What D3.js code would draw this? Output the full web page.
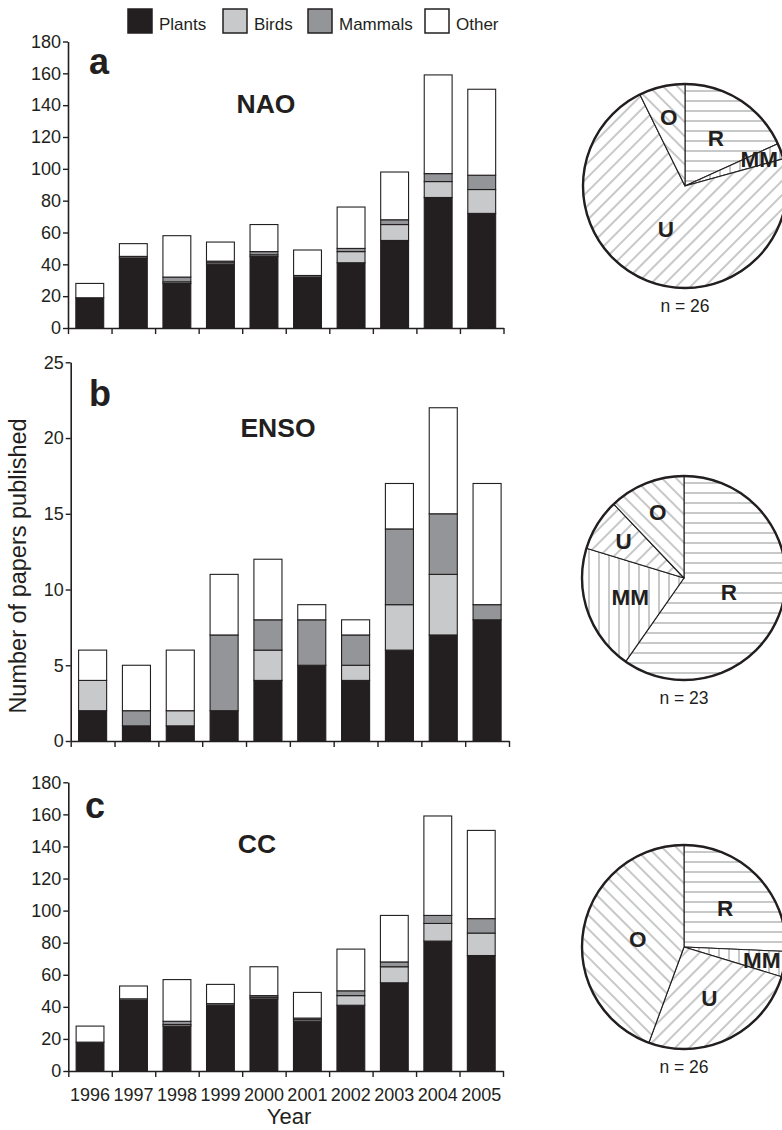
<!DOCTYPE html>
<html>
<head>
<meta charset="utf-8">
<script src="https://cdn.jsdelivr.net/npm/d3@7"></script>
<style>
  body { margin: 0; background: #fff; }
  svg { display: block; font-family: "Liberation Sans", Arial, Helvetica, sans-serif; }
</style>
</head>
<body>
<script>
// ---- data ----
const years = ['1996', '1997', '1998', '1999', '2000', '2001', '2002', '2003', '2004', '2005']
const groups = ['Plants', 'Birds', 'Mammals', 'Other']

const naoPlants = [19, 44, 28, 40, 45, 32, 41, 55, 82, 72]
const naoBirds = [0, 0, 1, 1, 1, 0, 7, 10, 10, 15]
const naoMammals = [0, 1, 3, 1, 2, 1, 2, 3, 5, 9]
const naoOther = [9, 8, 26, 12, 17, 16, 26, 30, 62, 54]

const ensoPlants = [2, 1, 1, 2, 4, 5, 4, 6, 7, 8]
const ensoBirds = [2, 0, 1, 0, 2, 0, 1, 3, 4, 0]
const ensoMammals = [0, 1, 0, 5, 2, 3, 2, 5, 4, 1]
const ensoOther = [2, 3, 4, 4, 4, 1, 1, 3, 7, 8]

const ccPlants = [18, 44, 28, 41, 45, 31, 41, 55, 81, 72]
const ccBirds = [0, 0, 1, 0, 1, 1, 6, 10, 11, 14]
const ccMammals = [0, 1, 2, 1, 1, 1, 3, 3, 5, 9]
const ccOther = [10, 8, 26, 12, 18, 16, 26, 29, 62, 55]

const naoTicks = [0, 20, 40, 60, 80, 100, 120, 140, 160, 180]
const ensoTicks = [0, 5, 10, 15, 20, 25]
const ccTicks = [0, 20, 40, 60, 80, 100, 120, 140, 160, 180]

// pie shares (percent of papers), clockwise from 12 o'clock
const pieCats = ['R', 'MM', 'U', 'O']
const naoPie = [18.2, 2.5, 72.0, 7.3]
const ensoPie = [59.7, 20.0, 8.2, 12.1]
const ccPie = [25.7, 4.0, 25.9, 44.4]
const pieN = [26, 23, 26]

// ---- styles ----
const ink = '#231f20'
const colors = { Plants: '#231f20', Birds: '#c8c9cb', Mammals: '#939598', Other: '#ffffff' }
const hatchColor = '#8f9194'

const svg = d3.select('body').append('svg')
    .attr('width', 782)
    .attr('height', 1130)

// hatch patterns for the pies
const defs = svg.append('defs')
const hatch = (id, angle) => {
    const p = defs.append('pattern')
        .attr('id', id)
        .attr('patternUnits', 'userSpaceOnUse')
        .attr('width', 10)
        .attr('height', 10)
        .attr('patternTransform', `rotate(${angle})`)
    p.append('rect').attr('width', 10).attr('height', 10).attr('fill', '#fff')
    p.append('line')
        .attr('x1', 0).attr('x2', 10).attr('y1', 5).attr('y2', 5)
        .attr('stroke', hatchColor).attr('stroke-width', 1)
}
hatch('hatch-R', 0)      // horizontal
hatch('hatch-MM', 90)    // vertical
hatch('hatch-U', -45)    // "/"
hatch('hatch-O', 45)     // "\"

// legend
const legendX = [128, 223, 308, 425]
const legend = svg.append('g').attr('class', 'legend')
groups.forEach((g, i) => {
    legend.append('rect')
        .attr('x', legendX[i]).attr('y', 9)
        .attr('width', 24).attr('height', 24)
        .attr('fill', colors[g])
        .attr('stroke', ink).attr('stroke-width', 1.5)
    legend.append('text')
        .attr('x', legendX[i] + 31).attr('y', 30)
        .attr('font-size', 17).attr('fill', ink)
        .text(g)
})

const drawBars = (cfg) => {
    const g = svg.append('g')

    const rows = years.map((year, i) => ({
        year,
        Plants: cfg.plants[i],
        Birds: cfg.birds[i],
        Mammals: cfg.mammals[i],
        Other: cfg.other[i]
    }))

    const yScale = d3.scaleLinear()
        .domain([0, d3.max(cfg.ticks)])
        .range([cfg.bottom, cfg.top])

    const xScale = d3.scaleBand()
        .domain(years)
        .range([cfg.left, cfg.right])
        .paddingInner(0.36)
        .paddingOuter(0.18)

    // tick marks sit on the band edges
    const edgeScale = d3.scaleLinear()
        .domain([0, years.length])
        .range([cfg.left, cfg.right])

    const stacked = d3.stack().keys(groups)(rows)

    g.append('g').selectAll('g')
        .data(stacked)
        .join('g')
        .attr('fill', d => colors[d.key])
        .selectAll('rect')
        .data(d => d.filter(s => s[1] > s[0]))
        .join('rect')
        .attr('x', d => xScale(d.data.year))
        .attr('width', xScale.bandwidth())
        .attr('y', d => yScale(d[1]))
        .attr('height', d => yScale(d[0]) - yScale(d[1]))
        .attr('stroke', ink)
        .attr('stroke-width', 1.1)

    const yAxis = d3.axisLeft(yScale)
        .tickValues(cfg.ticks)
        .tickSize(5)
        .tickSizeOuter(0)
        .tickPadding(2)

    const yAxisGroup = g.append('g')
        .attr('transform', `translate(${cfg.left},0)`)
        .call(yAxis)

    const xAxis = d3.axisBottom(edgeScale)
        .tickValues(d3.range(0, years.length + 1))
        .tickFormat('')
        .tickSize(6)
        .tickSizeOuter(0)

    const xAxisGroup = g.append('g')
        .attr('transform', `translate(0,${cfg.bottom})`)
        .call(xAxis)

    ;[yAxisGroup, xAxisGroup].forEach(a => {
        a.select('.domain').attr('stroke', ink).attr('stroke-width', 1.6)
        a.selectAll('.tick line').attr('stroke', ink).attr('stroke-width', 1.4)
        a.selectAll('text')
            .attr('font-size', 18)
            .attr('font-family', '"Liberation Sans", Arial, sans-serif')
            .attr('fill', ink)
    })

    if (cfg.yearLabels) {
        const labelAxis = d3.axisBottom(xScale).tickSize(0).tickPadding(17)
        const lab = g.append('g')
            .attr('transform', `translate(0,${cfg.bottom})`)
            .call(labelAxis)
        lab.select('.domain').remove()
        lab.selectAll('text')
            .attr('font-size', 18)
            .attr('font-family', '"Liberation Sans", Arial, sans-serif')
            .attr('fill', ink)
    }

    g.append('text')
        .attr('x', cfg.letterX).attr('y', cfg.letterY)
        .attr('font-size', 36).attr('font-weight', 'bold').attr('fill', ink)
        .text(cfg.letter)

    g.append('text')
        .attr('x', cfg.titleX).attr('y', cfg.titleY)
        .attr('text-anchor', 'middle')
        .attr('font-size', 26.5).attr('font-weight', 'bold').attr('fill', ink)
        .text(cfg.title)
}

// label distance from the centre depends on how wide the slice is
const labelRadius = span => {
    if (span < 0.3) return 79
    if (span < 0.9) return 71
    if (span > 2.5) return 47
    return 57
}

const drawPie = (values, n, cx, cy) => {
    const r = 102
    const g = svg.append('g').attr('transform', `translate(${cx},${cy})`)

    const pie = d3.pie().sort(null).value(d => d.v)
    const arcs = pie(pieCats.map((c, i) => ({ cat: c, v: values[i] })))
    const arc = d3.arc().innerRadius(0).outerRadius(r)

    g.selectAll('path')
        .data(arcs)
        .join('path')
        .attr('d', arc)
        .attr('fill', d => `url(#hatch-${d.data.cat})`)
        .attr('stroke', ink)
        .attr('stroke-width', 1.1)
        .attr('stroke-linejoin', 'round')

    g.append('circle')
        .attr('r', r)
        .attr('fill', 'none')
        .attr('stroke', ink)
        .attr('stroke-width', 2.4)

    g.selectAll('text.slice')
        .data(arcs)
        .join('text')
        .attr('class', 'slice')
        .each(function (d) {
            const mid = (d.startAngle + d.endAngle) / 2
            const lr = labelRadius(d.endAngle - d.startAngle)
            d3.select(this)
                .attr('x', Math.sin(mid) * lr)
                .attr('y', -Math.cos(mid) * lr)
        })
        .attr('dy', '0.36em')
        .attr('text-anchor', 'middle')
        .attr('font-size', 22.5)
        .attr('font-weight', 'bold')
        .attr('fill', ink)
        .text(d => d.data.cat)

    g.append('text')
        .attr('y', r + 24)
        .attr('text-anchor', 'middle')
        .attr('font-size', 17.5)
        .attr('fill', ink)
        .text(`n = ${n}`)
}

drawBars({
    plants: naoPlants, birds: naoBirds, mammals: naoMammals, other: naoOther,
    ticks: naoTicks, top: 41.5, bottom: 328, left: 68, right: 503.5,
    letter: 'a', letterX: 89, letterY: 74,
    title: 'NAO', titleX: 266, titleY: 113
})

drawBars({
    plants: ensoPlants, birds: ensoBirds, mammals: ensoMammals, other: ensoOther,
    ticks: ensoTicks, top: 362.3, bottom: 741, left: 70.7, right: 509,
    letter: 'b', letterX: 89, letterY: 406,
    title: 'ENSO', titleX: 278, titleY: 437
})

drawBars({
    plants: ccPlants, birds: ccBirds, mammals: ccMammals, other: ccOther,
    ticks: ccTicks, top: 782.3, bottom: 1071, left: 68.3, right: 503,
    letter: 'c', letterX: 85, letterY: 818,
    title: 'CC', titleX: 257, titleY: 853,
    yearLabels: true
})

drawPie(naoPie, pieN[0], 685, 186)
drawPie(ensoPie, pieN[1], 684, 578)
drawPie(ccPie, pieN[2], 684, 947)

// axis titles
svg.append('text')
    .attr('transform', 'translate(25.5,566) rotate(-90)')
    .attr('text-anchor', 'middle')
    .attr('font-size', 23.5)
    .attr('fill', ink)
    .text('Number of papers published')

svg.append('text')
    .attr('x', 289).attr('y', 1124)
    .attr('text-anchor', 'middle')
    .attr('font-size', 22)
    .attr('fill', ink)
    .text('Year')
</script>
</body>
</html>
